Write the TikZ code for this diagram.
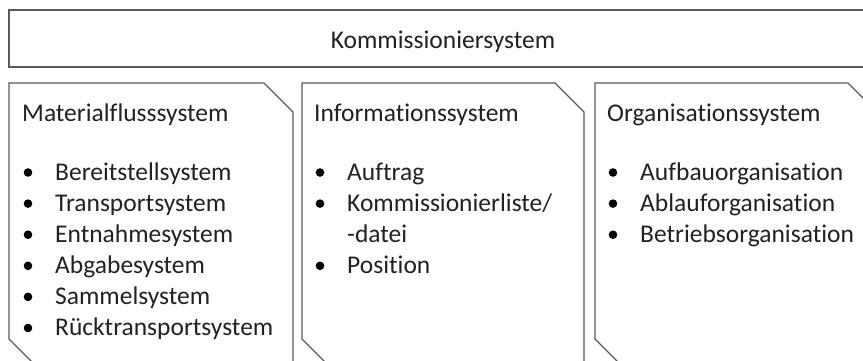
\documentclass[tikz,border=0pt]{standalone}
\usepackage{fontspec}
\setmainfont{Carlito}[Ligatures=NoCommon]
\definecolor{edge}{HTML}{5A5A5A}
\definecolor{ink}{HTML}{222222}
\tikzset{
  panel/.style={draw=edge, line width=1.1pt, fill=white},
  txt/.style={anchor=base west, inner sep=0pt, text=ink, font=\fontsize{25.5}{30}\selectfont},
  ctxt/.style={anchor=base, inner sep=0pt, text=ink, font=\fontsize{25.5}{30}\selectfont},
  dot/.style={fill=black}
}
\begin{document}
\begin{tikzpicture}[x=1pt,y=-1pt]
\useasboundingbox (0,0) rectangle (863,360);
\clip (0,0) rectangle (863,360);
\fill[white] (0,0) rectangle (863,360);
% top box
\draw[panel] (9,10) rectangle (877,67);
\node[ctxt] (top) at (443,48) {Kommissioniersystem};
% panels
\draw[panel] (9,83) -- (264,83) -- (293,112) -- (293,368) -- (38,368) -- (9,339) -- cycle;
\draw[panel] (302,83) -- (555,83) -- (584,112) -- (584,368) -- (331,368) -- (302,339) -- cycle;
\draw[panel] (595,83) -- (848,83) -- (877,112) -- (877,368) -- (624,368) -- (595,339) -- cycle;
% panel 1
\node[txt] (h1) at (22,121) {Materialflusssystem};
\foreach \t [count=\i from 0] in {Bereitstellsystem,Transportsystem,Entnahmesystem,Abgabesystem,Sammelsystem,Rücktransportsystem}{
  \fill[dot] (28,{172.5+31.1*\i}) circle (4.3);
  \node[txt] (a\i) at (55,{180+31.1*\i}) {\t};
}
% panel 2
\node[txt] (h2) at (314,121) {Informationssystem};
\fill[dot] (320,172.5) circle (4.3);
\node[txt] (b0) at (347,180) {Auftrag};
\fill[dot] (320,203.6) circle (4.3);
\node[txt] (b1) at (347,211.1) {Kommissionierliste/};
\node[txt] (b2) at (347,242.2) {-datei};
\fill[dot] (320,265.8) circle (4.3);
\node[txt] (b3) at (347,273.3) {Position};
% panel 3
\node[txt] (h3) at (607,121) {Organisationssystem};
\foreach \t [count=\i from 0] in {Aufbauorganisation,Ablauforganisation,Betriebsorganisation}{
  \fill[dot] (613,{172.5+31.1*\i}) circle (4.3);
  \node[txt] (c\i) at (640,{180+31.1*\i}) {\t};
}
\end{tikzpicture}
\end{document}
